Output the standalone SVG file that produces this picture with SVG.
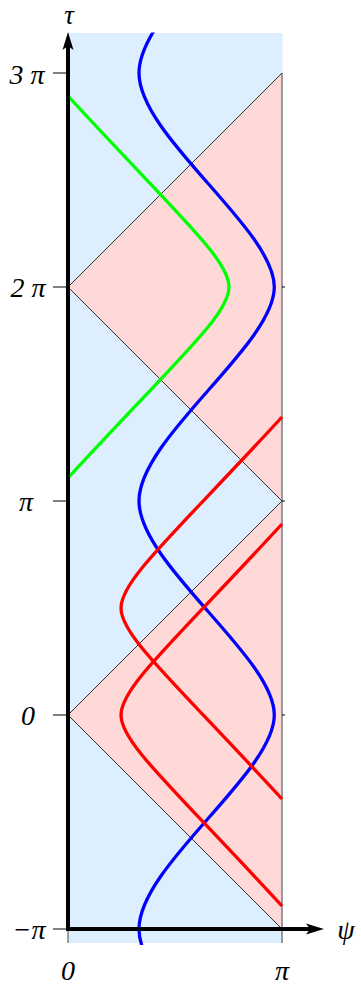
<svg xmlns="http://www.w3.org/2000/svg" width="361" height="990" viewBox="0 0 361 990">
<style>
.lbl{font-family:"Liberation Serif","DejaVu Serif",serif;font-style:italic;font-size:28px;fill:#000}
.diag{stroke:#000;stroke-width:0.8;fill:none}
.curve{fill:none;stroke-width:3.3}
.tick{stroke:#000;stroke-width:1}
</style>
<defs>
<clipPath id="strip"><rect x="0" y="32.5" width="361" height="912.5"/></clipPath>
</defs>
<rect width="361" height="990" fill="#fff"/>
<g id="background">
<rect x="68" y="33" width="214.5" height="910" fill="#DDEEFF"/>
<polygon points="68,287 282,73 282,501" fill="#FFD8D8"/>
<polygon points="68,715 282,501 282,929" fill="#FFD8D8"/>
</g>
<g id="horizons">
<path class="diag" d="M68,287 L282,73 M68,287 L282,501 M68,715 L282,501 M68,715 L282,929"/>
<path d="M282,73 V943 M68,929 V943" stroke="#444" stroke-width="1" fill="none"/>
<path d="M282,287 H285 M282,501 H285 M282,715 H285" stroke="#000" stroke-width="1"/>
</g>
<g id="green-curve">
<path class="curve" stroke="#00FF00" d="M68,96 C178,215.5 229,259 229,287 C229,315 178,358.5 68,478"/>
</g>
<g id="blue-curve" clip-path="url(#strip)">
<path class="curve" stroke="#0000FF" d="M274.3,-141 C274.3,-83 139,10 139,73 C139,136 274.3,229 274.3,287 C274.3,345 139,438 139,501 C139,564 274.3,657 274.3,715 C274.3,773 139,866 139,929 C139,992 274.3,1085 274.3,1143"/>
</g>
<g id="red-curves">
<path class="curve" stroke="#FF0000" d="M282,417 C172,536.5 121,580 121,608 C121,636 172,679.5 282,799"/>
<path class="curve" stroke="#FF0000" d="M282,524 C172,643.5 121,687 121,715 C121,743 172,786.5 282,906"/>
</g>
<g id="axes">
<path class="tick" d="M53,73 H68 M53,287 H68 M53,501 H68 M53,715 H68 M53,929 H68"/>
<line x1="68" y1="931" x2="68" y2="46" stroke="#000" stroke-width="4"/>
<polygon points="68,32 73.5,50 68,46 62.5,50" fill="#000"/>
<line x1="66" y1="929" x2="311" y2="929" stroke="#000" stroke-width="4"/>
<polygon points="324,929 306,934.5 310,929 306,923.5" fill="#000"/>
</g>
<g id="labels">
<text class="lbl" x="69" y="24" text-anchor="middle" style="font-size:27px">τ</text>
<text class="lbl" x="346" y="939" text-anchor="middle">ψ</text>
<text class="lbl" x="27" y="84" text-anchor="middle">3 π</text>
<text class="lbl" x="28" y="297" text-anchor="middle">2 π</text>
<text class="lbl" x="26" y="511" text-anchor="middle">π</text>
<text class="lbl" x="28" y="725" text-anchor="middle">0</text>
<text class="lbl" x="29" y="939" text-anchor="middle">−π</text>
<text class="lbl" x="68" y="980" text-anchor="middle">0</text>
<text class="lbl" x="282" y="980" text-anchor="middle">π</text>
</g>
</svg>
